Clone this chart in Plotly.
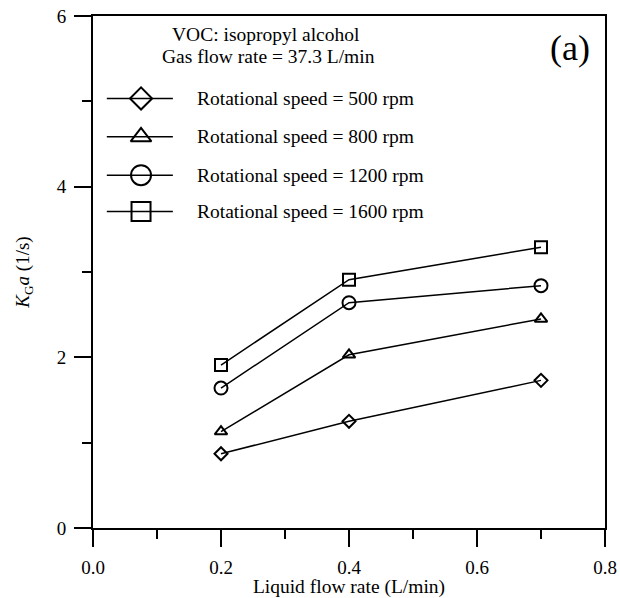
import plotly.graph_objects as go

# ---- data ----
liquid_flow = [0.2, 0.4, 0.7]
kga_500 = [0.87, 1.25, 1.73]
kga_800 = [1.13, 2.03, 2.45]
kga_1200 = [1.64, 2.64, 2.84]
kga_1600 = [1.91, 2.91, 3.29]
series_names = ["Rotational speed = 500 rpm", "Rotational speed = 800 rpm",
                "Rotational speed = 1200 rpm", "Rotational speed = 1600 rpm"]
series_values = [kga_500, kga_800, kga_1200, kga_1600]
x_tick_vals = [0.0, 0.2, 0.4, 0.6, 0.8]
x_tick_text = ["0.0", "0.2", "0.4", "0.6", "0.8"]
y_tick_vals = [0, 2, 4, 6]
y_tick_text = ["0", "2", "4", "6"]

symbols = ["diamond-open", "triangle-up-open", "circle-open", "square-open"]
plot_sizes = [10, 11, 13, 12]
legend_sizes = [17, 18, 20, 19]

FONT = "Liberation Serif, Times New Roman, serif"
TXT = 19.5

fig = go.Figure()
for name, vals, sym, sz in zip(series_names, series_values, symbols, plot_sizes):
    fig.add_trace(go.Scatter(
        x=liquid_flow, y=vals, mode="lines+markers", name=name,
        line=dict(color="black", width=1.5),
        marker=dict(symbol=sym, size=sz, color="black", line=dict(width=2, color="black")),
        showlegend=False, cliponaxis=False))

# ---- custom legend (overlay axis in unit coordinates) ----
leg_y = [0.839, 0.764, 0.689, 0.618]
leg_x0, leg_xm, leg_x1 = 0.027, 0.0938, 0.156
for name, sym, sz, yy in zip(series_names, symbols, legend_sizes, leg_y):
    fig.add_trace(go.Scatter(x=[leg_x0, leg_x1], y=[yy, yy], mode="lines",
                             line=dict(color="black", width=1.5),
                             xaxis="x2", yaxis="y2", showlegend=False, hoverinfo="skip"))
    fig.add_trace(go.Scatter(x=[leg_xm], y=[yy], mode="markers",
                             marker=dict(symbol=sym, size=sz, color="black",
                                         line=dict(width=2, color="black")),
                             xaxis="x2", yaxis="y2", showlegend=False, hoverinfo="skip"))
    fig.add_annotation(x=0.199, y=yy, xref="x2", yref="y2", text=name, showarrow=False,
                       xanchor="left", yanchor="middle",
                       font=dict(size=TXT, family=FONT, color="black"))

fig.add_annotation(x=0.338, y=0.963, xref="x2", yref="y2", text="VOC: isopropyl alcohol",
                   showarrow=False, xanchor="center", yanchor="middle",
                   font=dict(size=TXT, family=FONT, color="black"))
fig.add_annotation(x=0.343, y=0.920, xref="x2", yref="y2", text="Gas flow rate = 37.3 L/min",
                   showarrow=False, xanchor="center", yanchor="middle",
                   font=dict(size=TXT, family=FONT, color="black"))
fig.add_annotation(x=0.931, y=0.9375, xref="x2", yref="y2", text="(a)",
                   showarrow=False, xanchor="center", yanchor="middle",
                   font=dict(size=36, family=FONT, color="black"))

axis_common = dict(showline=True, linecolor="black", linewidth=2, mirror=True,
                   ticks="outside", ticklen=17, tickwidth=2, tickcolor="black",
                   showgrid=False, zeroline=False, automargin=False,
                   tickfont=dict(size=19, family=FONT, color="black"))

fig.update_layout(
    width=620, height=598,
    margin=dict(l=93, r=15, t=16, b=70, autoexpand=False),
    paper_bgcolor="white", plot_bgcolor="white",
    font=dict(family=FONT, color="black"),
    xaxis=dict(range=[0, 0.8], tickmode="array", tickvals=x_tick_vals, ticktext=x_tick_text,
               minor=dict(dtick=0.1, tick0=0, ticklen=9, tickwidth=2, tickcolor="black", ticks="outside"),
               ticklabelstandoff=4,
               title=dict(text="Liquid flow rate (L/min)", font=dict(size=TXT, family=FONT), standoff=0),
               **axis_common),
    yaxis=dict(range=[0, 6], tickmode="array", tickvals=y_tick_vals, ticktext=y_tick_text,
               minor=dict(dtick=1, tick0=0, ticklen=9, tickwidth=2, tickcolor="black", ticks="outside"),
               ticklabelstandoff=4,
               title=dict(text="<i>K</i><sub>G</sub><i>a</i> (1/s)", font=dict(size=19, family=FONT), standoff=22),
               **axis_common),
    xaxis2=dict(range=[0, 1], overlaying="x", visible=False, domain=[0, 1]),
    yaxis2=dict(range=[0, 1], overlaying="y", visible=False, domain=[0, 1]),
)

fig.write_html("out.html")
